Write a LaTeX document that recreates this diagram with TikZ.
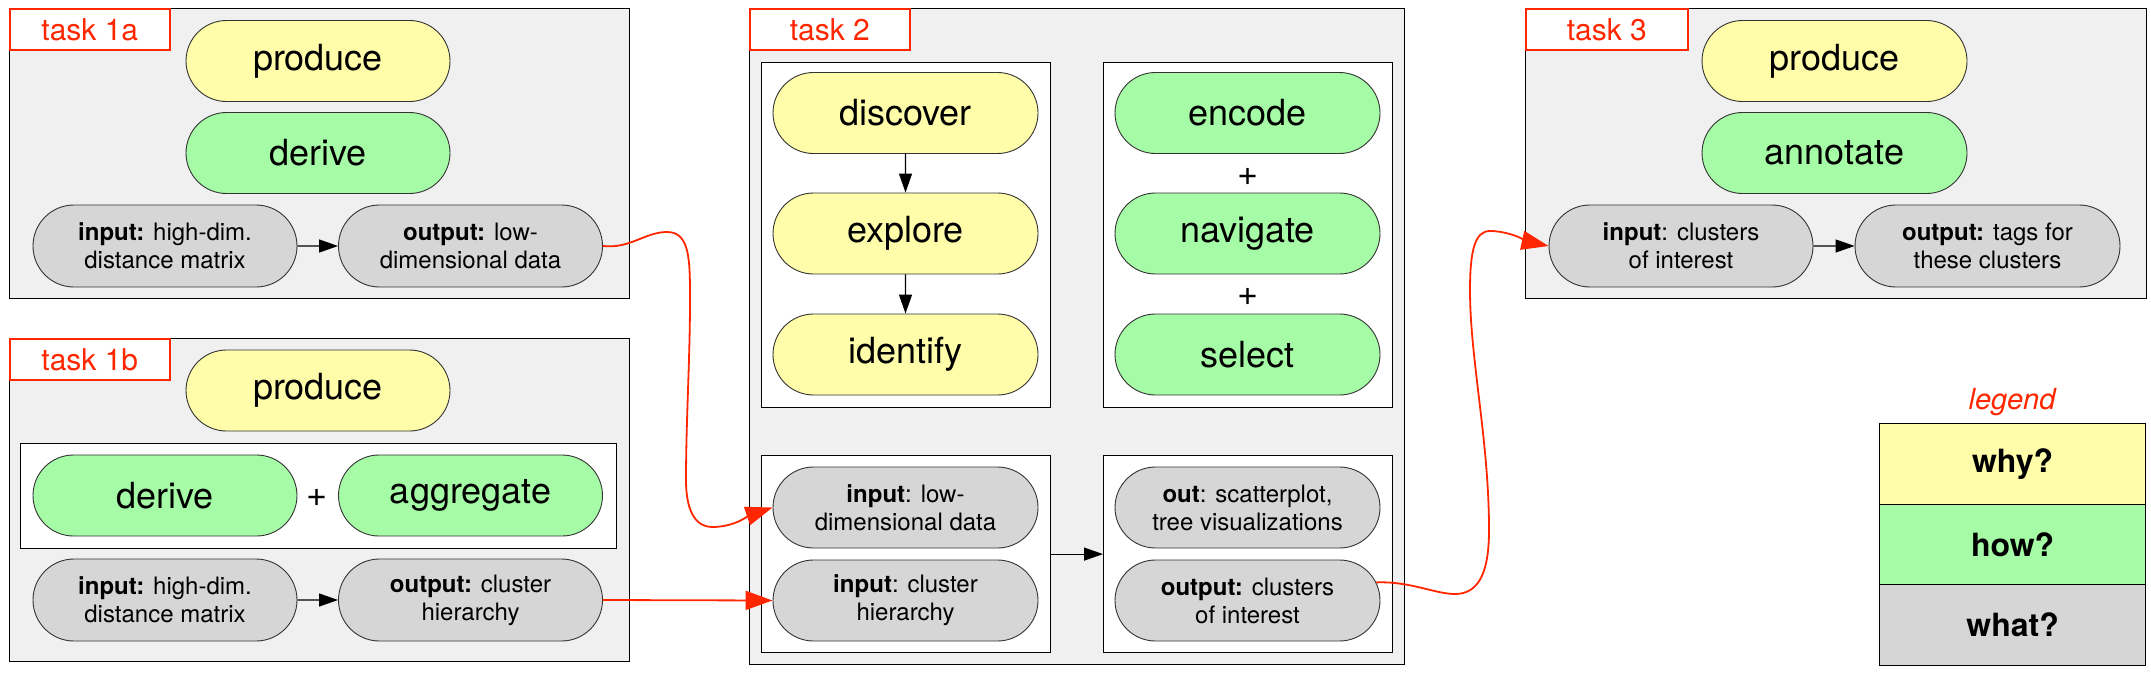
\documentclass[tikz,border=0pt]{standalone}
\usepackage{fontspec}
\setmainfont{TeX Gyre Heros}
\usetikzlibrary{shapes.misc,arrows.meta}
\definecolor{whyc}{RGB}{255,252,170}
\definecolor{howc}{RGB}{166,251,166}
\definecolor{whatc}{RGB}{214,214,214}
\definecolor{boxbg}{RGB}{240,240,240}
\definecolor{redc}{RGB}{255,38,0}
\begin{document}
\begin{tikzpicture}[x=1pt,y=-1pt,
  pill/.style={rounded rectangle, draw=black!80, line width=0.9pt, minimum width=264pt, minimum height=81pt, inner sep=0pt, font=\fontsize{36}{40}\selectfont},
  why/.style={pill, fill=whyc},
  how/.style={pill, fill=howc},
  what/.style={pill, fill=whatc, minimum height=82pt, align=center, font=\fontsize{24}{28}\selectfont},
  taskbox/.style={draw=black, line width=1.2pt, fill=boxbg, anchor=north west, inner sep=0pt},
  innerbox/.style={draw=black, line width=1.2pt, fill=white, anchor=north west, inner sep=0pt},
  tasklabel/.style={draw=redc, line width=1.6pt, fill=white, anchor=north west, inner sep=0pt, minimum width=160pt, minimum height=41pt, text=redc, font=\fontsize{30}{34}\selectfont},
  plus/.style={inner sep=0pt, font=\fontsize{36}{40}\selectfont},
  blackarrow/.style={line width=1.2pt, -{Triangle[length=19pt,width=13pt]}},
  redarrow/.style={draw=redc, line width=1.8pt, -{Triangle[length=27pt,width=19pt]}, redc},
  legrow/.style={draw=black, line width=1.2pt, anchor=north west, minimum width=266pt, minimum height=80.5pt, inner sep=0pt, font=\fontsize{32}{36}\selectfont\bfseries}
  ]
\useasboundingbox (0,0) rectangle (2151,672);

% ---------- task 1a ----------
\node[taskbox, minimum width=620pt, minimum height=290pt] (t1a) at (9,8) {};
\node[tasklabel] (l1a) at (9,8) {task 1a};
\node[why] (p1a) at (318,61) {produce};
\node[how] (d1a) at (318,153) {derive};
\node[what] (in1a) at (165,246) {\textbf{input:} high-dim.\\distance matrix};
\node[what] (out1a) at (470.5,246) {\textbf{output:} low-\\dimensional data};
\draw[blackarrow] (in1a) -- (out1a);

% ---------- task 1b ----------
\node[taskbox, minimum width=620pt, minimum height=323pt] (t1b) at (9,338) {};
\node[tasklabel] (l1b) at (9,338) {task 1b};
\node[why] (p1b) at (318,390.5) {produce};
\node[innerbox, minimum width=596pt, minimum height=105pt] (ib1b) at (20,443) {};
\node[how] (d1b) at (165,495.5) {derive};
\node[how] (a1b) at (470.5,495.5) {aggregate};
\node[plus] (pl1b) at (317.5,498) {+};
\node[what] (in1b) at (165,600) {\textbf{input:} high-dim.\\distance matrix};
\node[what] (out1b) at (470.5,600) {\textbf{output:} cluster\\hierarchy};
\draw[blackarrow] (in1b) -- (out1b);

% ---------- task 2 ----------
\node[taskbox, minimum width=655pt, minimum height=656pt] (t2) at (749,8) {};
\node[tasklabel] (l2) at (749,8) {task 2};
\node[innerbox, minimum width=289.5pt, minimum height=345pt] (b2tl) at (760.5,62) {};
\node[innerbox, minimum width=289pt, minimum height=345pt] (b2tr) at (1103,62) {};
\node[innerbox, minimum width=289.5pt, minimum height=197pt] (b2bl) at (760.5,455) {};
\node[innerbox, minimum width=289pt, minimum height=197pt] (b2br) at (1103,455) {};
\node[why, minimum width=265pt] (disc) at (905.5,113) {discover};
\node[why, minimum width=265pt] (expl) at (905.5,233.5) {explore};
\node[why, minimum width=265pt] (iden) at (905.5,354.5) {identify};
\draw[blackarrow] (disc) -- (expl);
\draw[blackarrow] (expl) -- (iden);
\node[how, minimum width=265pt] (enc) at (1247.5,113) {encode};
\node[how, minimum width=265pt] (nav) at (1247.5,233.5) {navigate};
\node[how, minimum width=265pt] (sel) at (1247.5,354.5) {select};
\node[plus] (pl2a) at (1247.5,177) {+};
\node[plus] (pl2b) at (1247.5,297) {+};
\node[what, minimum width=265pt, minimum height=81pt] (inA) at (905.5,507.5) {\textbf{input}: low-\\dimensional data};
\node[what, minimum width=265pt, minimum height=81pt] (inB) at (905.5,600.5) {\textbf{input}: cluster\\hierarchy};
\node[what, minimum width=265pt, minimum height=81pt] (outA) at (1247.5,507.5) {\textbf{out}: scatterplot,\\tree visualizations};
\node[what, minimum width=265pt, minimum height=81pt] (outB) at (1247.5,600.5) {\textbf{output:} clusters\\of interest};
\draw[blackarrow] (b2bl.east) -- (b2br.west);

% ---------- task 3 ----------
\node[taskbox, minimum width=621pt, minimum height=290pt] (t3) at (1525,8) {};
\node[tasklabel, minimum width=162pt] (l3) at (1525,8) {task 3};
\node[why, minimum width=265pt] (p3) at (1834.5,61) {produce};
\node[how, minimum width=265pt] (an3) at (1834.5,153) {annotate};
\node[what] (in3) at (1681,246) {\textbf{input}: clusters\\of interest};
\node[what, minimum width=265pt] (out3) at (1987.5,246) {\textbf{output:} tags for\\these clusters};
\draw[blackarrow] (in3) -- (out3);

% ---------- legend ----------
\node[text=redc, inner sep=0pt, font=\fontsize{29}{32}\selectfont\itshape] (legt) at (2012,402) {legend};
\node[legrow, fill=whyc] (lwhy) at (1879,423) {why?};
\node[legrow, fill=howc] (lhow) at (1879,503.5) {how?};
\node[legrow, fill=whatc] (lwhat) at (1879,584) {what?};

% ---------- red connectors ----------
\draw[redarrow] (out1a.east) .. controls (630,249) and (645,232) .. (667,232)
  .. controls (690,232) and (690,260) .. (690,300)
  .. controls (690,360) and (686,420) .. (686,480)
  .. controls (686,515) and (698,527) .. (712,527)
  .. controls (735,527) and (750,515) .. (inA.west);
\draw[redarrow] (out1b.east) -- (inB.west);
\draw[redarrow] (outB.8) .. controls (1410,581) and (1435,594) .. (1455,594)
  .. controls (1480,594) and (1489,570) .. (1489,530)
  .. controls (1489,440) and (1470,360) .. (1470,290)
  .. controls (1470,250) and (1475,231) .. (1490,231)
  .. controls (1510,231) and (1530,242) .. (in3.west);
\end{tikzpicture}
\end{document}
